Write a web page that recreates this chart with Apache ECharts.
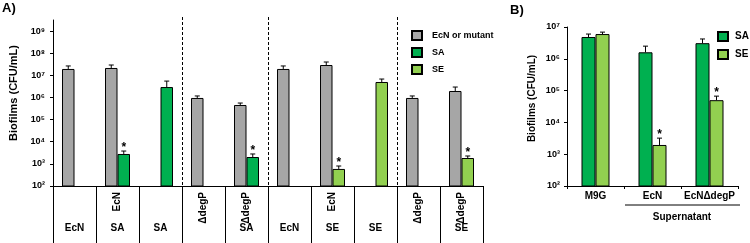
<!DOCTYPE html>
<html lang="en">

<head>
    <meta charset="UTF-8">
    <title>Biofilms</title>
    <style>
        html, body { margin: 0; padding: 0; background: #fff; }
    </style>
</head>

<body>
    <div id="main" style="width: 750px;height:243px;"></div>
</body>
<script src="https://cdn.jsdelivr.net/npm/echarts@6/dist/echarts.min.js"></script>

<script>
    // ---- panel A data ----
    var catsA = ['c0', 'c1', 'c2', 'c3', 'c4', 'c5', 'c6', 'c7', 'c8', 'c9'];
    var topLabels = ['', 'EcN', '', '\u0394degP', '\u0394degP', '', 'EcN', '', '\u0394degP', '\u0394degP'];
    var bottomLabels = ['EcN', 'SA', 'SA', '', 'SA', 'EcN', 'SE', 'SE', '', 'SE'];
    var ecnA = [1.94e7, 2.15e7, null, 9.5e5, 4.57e5, 1.94e7, 2.93e7, null, 9.5e5, 1.96e6];
    var ecnErrA = [2.65e7, 2.93e7, null, 1.17e6, 5.6e5, 2.65e7, 4.0e7, null, 1.17e6, 2.96e6];
    var saA = [null, 2.8e3, 2.96e6, null, 2.04e3, null, null, null, null, null];
    var saErrA = [null, 3.8e3, 5.5e6, null, 2.8e3, null, null, null, null, null];
    var seA = [null, null, null, null, null, null, 5.9e2, 5.0e6, null, 1.84e3];
    var seErrA = [null, null, null, null, null, null, 8.0e2, 6.8e6, null, 2.27e3];
    var starA = [0, 1, 0, 0, 1, 0, 1, 0, 0, 1];
    var dashedAt = [3, 5, 8];   // dashed divider before these categories

    // ---- panel B data ----
    var catsB = ['M9G', 'EcN', 'EcN\u0394degP'];
    var saB = [4.85e6, 1.6e6, 3.1e6];
    var saErrB = [6.0e6, 2.5e6, 4.2e6];
    var seB = [6.0e6, 1.95e3, 5.0e4];
    var seErrB = [6.9e6, 3.2e3, 6.7e4];
    var starB = [0, 1, 1];

    var ticksA = [1e2, 1e3, 1e4, 1e5, 1e6, 1e7, 1e8, 1e9];
    var ticksB = [1e2, 1e3, 1e4, 1e5, 1e6, 1e7];

    var GRAY = '#a6a6a6', GREEN = '#00b050', LIGHT = '#92d050';
    var FONT = 'Liberation Sans';
    var sup = { '0': '\u2070', '1': '\u00b9', '2': '\u00b2', '3': '\u00b3', '4': '\u2074', '5': '\u2075', '6': '\u2076', '7': '\u2077', '8': '\u2078', '9': '\u2079' };

    function powLabel(v) {
        var e = Math.round(Math.log10(v));
        return '10' + sup[String(e)];
    }

    // error bars: [category, value, upper, side, star]
    function errData(vals, errs, stars, side) {
        var out = [];
        for (var i = 0; i < vals.length; i++) {
            if (vals[i] != null) out.push([i, vals[i], errs[i], side, stars ? stars[i] : 0]);
        }
        return out;
    }

    function makeErr(halfW) {
        return function (params, api) {
            var b = api.coord([api.value(0), api.value(1)]);
            var t = api.coord([api.value(0), api.value(2)]);
            var x = b[0] + api.value(3) * halfW;
            var kids = [
                { type: 'line', shape: { x1: x, y1: b[1], x2: x, y2: t[1] }, style: { stroke: '#000', lineWidth: 1 } },
                { type: 'line', shape: { x1: x - 2.5, y1: t[1], x2: x + 2.5, y2: t[1] }, style: { stroke: '#000', lineWidth: 1 } }
            ];
            if (api.value(4)) {
                kids.push({
                    type: 'text',
                    style: { text: '*', x: x, y: t[1] + 3, align: 'center', verticalAlign: 'bottom', font: 'bold 12px ' + FONT, fill: '#000' }
                });
            }
            return { type: 'group', children: kids };
        };
    }

    // dashed divider between category i-1 and i
    function renderDivider(params, api) {
        var a = api.coord([api.value(0) - 1, 1e2]);
        var b = api.coord([api.value(0), 1e2]);
        var x = Math.round((a[0] + b[0]) / 2) + 0.5;
        var cs = params.coordSys;
        return {
            type: 'line',
            shape: { x1: x, y1: cs.y - 3, x2: x, y2: cs.y + cs.height },
            style: { stroke: '#000', lineWidth: 1, lineDash: [3, 2] }
        };
    }

    var barStyle = function (c) {
        return { color: c, borderColor: '#000', borderWidth: 1 };
    };

    var myChart = echarts.init(document.getElementById('main'));
    myChart.setOption({
        animation: false,
        textStyle: { fontFamily: FONT },
        grid: [
            { left: 49, width: 434, top: 20, bottom: 57 },
            { left: 567, width: 171, top: 27, bottom: 57 }
        ],
        legend: [
            {
                orient: 'vertical', left: 411, top: 30, padding: 0, itemWidth: 10, itemHeight: 9, itemGap: 6,
                icon: 'rect', data: ['EcN or mutant', 'SA', 'SE'],
                textStyle: { fontWeight: 'bold', fontSize: 9, color: '#000', padding: [0, 0, 0, 5] }
            },
            {
                orient: 'vertical', left: 717, top: 31, padding: 0, itemWidth: 10, itemHeight: 9, itemGap: 7,
                icon: 'rect', data: ['SA', 'SE'],
                textStyle: { fontWeight: 'bold', fontSize: 10, color: '#000', padding: [0, 0, 0, 2] }
            }
        ],
        xAxis: [
            {
                gridIndex: 0, type: 'category', position: 'bottom', data: catsA,
                axisLine: { show: true, lineStyle: { color: '#000', width: 1 } },
                axisTick: { show: true, length: 57, interval: 0, lineStyle: { color: '#000', width: 1 } },
                axisLabel: {
                    interval: 0, rotate: 90, margin: 6, fontWeight: 'bold', fontSize: 10, color: '#000',
                    formatter: function (v, i) { return topLabels[i]; }
                },
                splitLine: { show: false }
            },
            {
                gridIndex: 0, type: 'category', position: 'bottom', data: catsA, show: false
            },
            {
                gridIndex: 0, type: 'category', position: 'bottom', data: catsA,
                axisLine: { show: false }, axisTick: { show: false },
                axisLabel: {
                    interval: 0, margin: 37, fontWeight: 'bold', fontSize: 10, color: '#000',
                    formatter: function (v, i) { return bottomLabels[i]; }
                }
            },
            {
                gridIndex: 1, type: 'category', position: 'bottom', data: catsB,
                axisLine: { show: true, lineStyle: { color: '#000', width: 1 } },
                axisTick: { show: true, length: 3, interval: 0, lineStyle: { color: '#000' } },
                axisLabel: { interval: 0, margin: 5, fontWeight: 'bold', fontSize: 10, color: '#000' }
            }
        ],
        yAxis: [
            {
                gridIndex: 0, type: 'log', min: 1e2, max: Math.pow(10, 9.5),
                name: 'Biofilms (CFU/mL)', nameLocation: 'middle', nameGap: 34,
                nameTextStyle: { fontWeight: 'bold', fontSize: 11, color: '#000', padding: [0, 0, 0, 20] },
                axisLine: { show: true, lineStyle: { color: '#000', width: 1 } },
                axisTick: { show: true, length: 3, customValues: ticksA, lineStyle: { color: '#000' } },
                axisLabel: { customValues: ticksA, margin: 8, fontWeight: 'bold', fontSize: 9, color: '#000', formatter: powLabel },
                splitLine: { show: false }
            },
            {
                gridIndex: 1, type: 'log', min: 1e2, max: 1e7,
                name: 'Biofilms (CFU/mL)', nameLocation: 'middle', nameGap: 30,
                nameTextStyle: { fontWeight: 'bold', fontSize: 10, color: '#000', padding: [0, 0, 0, 16] },
                axisLine: { show: true, lineStyle: { color: '#000', width: 1 } },
                axisTick: { show: true, length: 3, customValues: ticksB, lineStyle: { color: '#000' } },
                axisLabel: { customValues: ticksB, margin: 7, fontWeight: 'bold', fontSize: 9, color: '#000', formatter: powLabel },
                splitLine: { show: false }
            }
        ],
        series: [
            // panel A
            { name: 'EcN or mutant', type: 'bar', xAxisIndex: 0, yAxisIndex: 0, data: ecnA, barWidth: 12.5, barGap: 0, itemStyle: barStyle(GRAY) },
            { name: 'SA', type: 'bar', xAxisIndex: 0, yAxisIndex: 0, data: saA, barWidth: 12.5, barGap: 0, itemStyle: barStyle(GREEN) },
            // placeholder keeps SE bars in the same slot as SA
            { name: 'slot', type: 'bar', xAxisIndex: 1, yAxisIndex: 0, data: [], barWidth: 12.5, barGap: 0 },
            { name: 'SE', type: 'bar', xAxisIndex: 1, yAxisIndex: 0, data: seA, barWidth: 12.5, barGap: 0, itemStyle: barStyle(LIGHT) },
            { type: 'custom', xAxisIndex: 0, yAxisIndex: 0, renderItem: makeErr(6.25), data: errData(ecnA, ecnErrA, null, -1), z: 5 },
            { type: 'custom', xAxisIndex: 0, yAxisIndex: 0, renderItem: makeErr(6.25), data: errData(saA, saErrA, starA, 1), z: 5 },
            { type: 'custom', xAxisIndex: 0, yAxisIndex: 0, renderItem: makeErr(6.25), data: errData(seA, seErrA, starA, 1), z: 5 },
            { type: 'custom', xAxisIndex: 0, yAxisIndex: 0, renderItem: renderDivider, clip: false, data: dashedAt.map(function (i) { return [i, 1e2]; }), z: 1 },
            // panel B
            { name: 'SA', type: 'bar', xAxisIndex: 3, yAxisIndex: 1, data: saB, barWidth: 14, barGap: 0, itemStyle: barStyle(GREEN) },
            { name: 'SE', type: 'bar', xAxisIndex: 3, yAxisIndex: 1, data: seB, barWidth: 14, barGap: 0, itemStyle: barStyle(LIGHT) },
            { type: 'custom', xAxisIndex: 3, yAxisIndex: 1, renderItem: makeErr(7), data: errData(saB, saErrB, null, -1), z: 5 },
            { type: 'custom', xAxisIndex: 3, yAxisIndex: 1, renderItem: makeErr(7), data: errData(seB, seErrB, starB, 1), z: 5 }
        ],
        graphic: [
            { type: 'text', left: 2, top: 2, style: { text: 'A)', font: 'bold 13px ' + FONT, fill: '#000' } },
            { type: 'text', left: 510, top: 4, style: { text: 'B)', font: 'bold 13px ' + FONT, fill: '#000' } },
            { type: 'line', shape: { x1: 625, y1: 205, x2: 740, y2: 205 }, style: { stroke: '#000', lineWidth: 1 } },
            { type: 'text', x: 682, y: 217, style: { text: 'Supernatant', font: 'bold 10px ' + FONT, fill: '#000', align: 'center', verticalAlign: 'middle' } }
        ]
    });
</script>

</html>
